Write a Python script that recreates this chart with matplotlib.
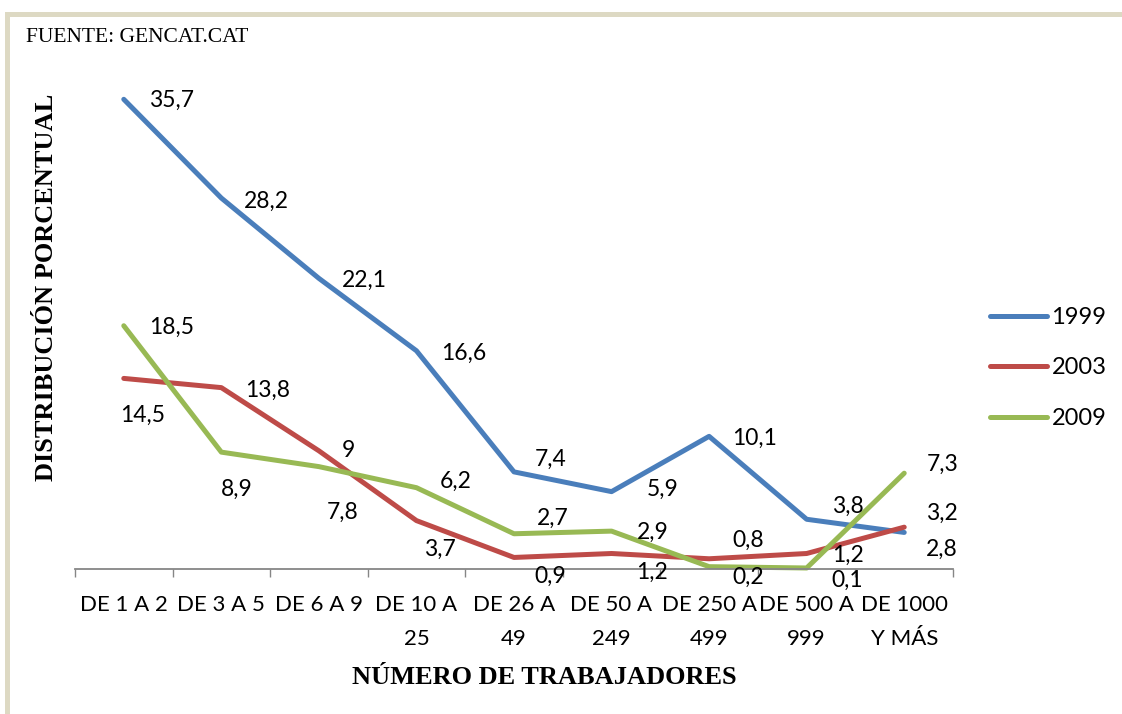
import matplotlib
matplotlib.use("Agg")
import matplotlib.pyplot as plt
from matplotlib.patches import Rectangle

# ---------------------------------------------------------------------------
# data
# ---------------------------------------------------------------------------
categorias = ["DE 1 A 2", "DE 3 A 5", "DE 6 A 9", "DE 10 A\n25", "DE 26 A\n49",
              "DE 50 A\n249", "DE 250 A\n499", "DE 500 A\n999", "DE 1000\nY MÁS"]
serie_1999 = [35.7, 28.2, 22.1, 16.6, 7.4, 5.9, 10.1, 3.8, 2.8]
serie_2003 = [14.5, 13.8, 9.0, 3.7, 0.9, 1.2, 0.8, 1.2, 3.2]
serie_2009 = [18.5, 8.9, 7.8, 6.2, 2.7, 2.9, 0.2, 0.1, 7.3]
etiquetas_1999 = ["35,7", "28,2", "22,1", "16,6", "7,4", "5,9", "10,1", "3,8", "2,8"]
etiquetas_2003 = ["14,5", "13,8", "9", "3,7", "0,9", "1,2", "0,8", "1,2", "3,2"]
etiquetas_2009 = ["18,5", "8,9", "7,8", "6,2", "2,7", "2,9", "0,2", "0,1", "7,3"]

# label offsets in pixels (left edge dx, centre dy downwards)
off_1999 = [(25, 1.5), (23, 3), (23, 2), (25, 3), (21, -13), (35, -2), (23, 2), (25, -13), (22, 17)]
off_2003 = [(-4, 37), (24, 3), (23, 0), (8, 29), (20, 19), (25, 19), (23, -18), (25, 2), (22, -14)]
off_2009 = [(25, 2), (0, 37), (8, 46), (23, -6), (23, -15), (25, 1), (23, 11), (25, 12), (23, -9)]

W, H, DPI = 1122, 714, 100
PX = 72.0 / DPI
SANS = ["Lato", "DejaVu Sans"]
SERIF = ["Liberation Serif", "DejaVu Serif"]

fig = plt.figure(figsize=(W / DPI, H / DPI), dpi=DPI)
fig.patch.set_facecolor("white")

# beige frame of the chart area (runs off right / bottom)
fig.patches.append(Rectangle((6.5 / W, -0.05), 1.2, 1 - 13.5 / H + 0.05,
                             transform=fig.transFigure, fill=False,
                             edgecolor="#DDD9C3", linewidth=5 * PX))

ax = fig.add_axes([75 / W, 1 - 569.3 / H, (953 - 75) / W, (569.3 - 42.7) / H])
x = list(range(len(categorias)))

series = [("1999", serie_1999, etiquetas_1999, off_1999, "#4A7EBB"),
          ("2003", serie_2003, etiquetas_2003, off_2003, "#BE4B48"),
          ("2009", serie_2009, etiquetas_2009, off_2009, "#98B954")]

for nombre, vals, labs, offs, col in series:
    ax.plot(x, vals, color=col, lw=5 * PX, label=nombre, clip_on=False,
            solid_capstyle="round", solid_joinstyle="round")
    for xi, v, t, (dx, dy) in zip(x, vals, labs, offs):
        ax.annotate(t, (xi, v), xytext=(dx * PX, -dy * PX), textcoords="offset points",
                    ha="left", va="center", fontsize=16.5, family=SANS, color="black")

ax.set_xlim(-0.5, len(categorias) - 0.5)
ax.set_ylim(0, 40)
ax.set_xticks([i - 0.5 for i in range(len(categorias) + 1)])
ax.set_xticklabels([])
ax.set_xticks(x, minor=True)
ax.set_xticklabels(categorias, minor=True, fontsize=16, family=SANS, linespacing=1.85)
ax.tick_params(axis="x", which="major", length=6, width=1, color="#868686", direction="out")
ax.tick_params(axis="x", which="minor", length=0, pad=18.5)
ax.set_yticks([])
for s in ("top", "right", "left"):
    ax.spines[s].set_visible(False)
ax.spines["bottom"].set_color("#868686")
ax.spines["bottom"].set_linewidth(1.3)
ax.patch.set_alpha(0)

fig.text(26 / W, 1 - 38 / H, "FUENTE: GENCAT.CAT", ha="left", va="center",
         fontsize=15.5, family=SERIF)
fig.text(47 / W, 1 - 287 / H, "DISTRIBUCIÓN PORCENTUAL", ha="center", va="center",
         rotation=90, fontsize=19, fontweight="bold", family=SERIF)
fig.text(544 / W, 1 - 678 / H, "NÚMERO DE TRABAJADORES", ha="center", va="center",
         fontsize=19, fontweight="bold", family=SERIF)

leg = fig.legend(loc="center left", bbox_to_anchor=(990 / W, 1 - 368 / H),
                 frameon=False, prop={"family": SANS, "size": 17},
                 handlelength=2.4, handletextpad=0.2, labelspacing=1.25,
                 borderpad=0, borderaxespad=0)

fig.savefig("out.png", dpi=DPI)
